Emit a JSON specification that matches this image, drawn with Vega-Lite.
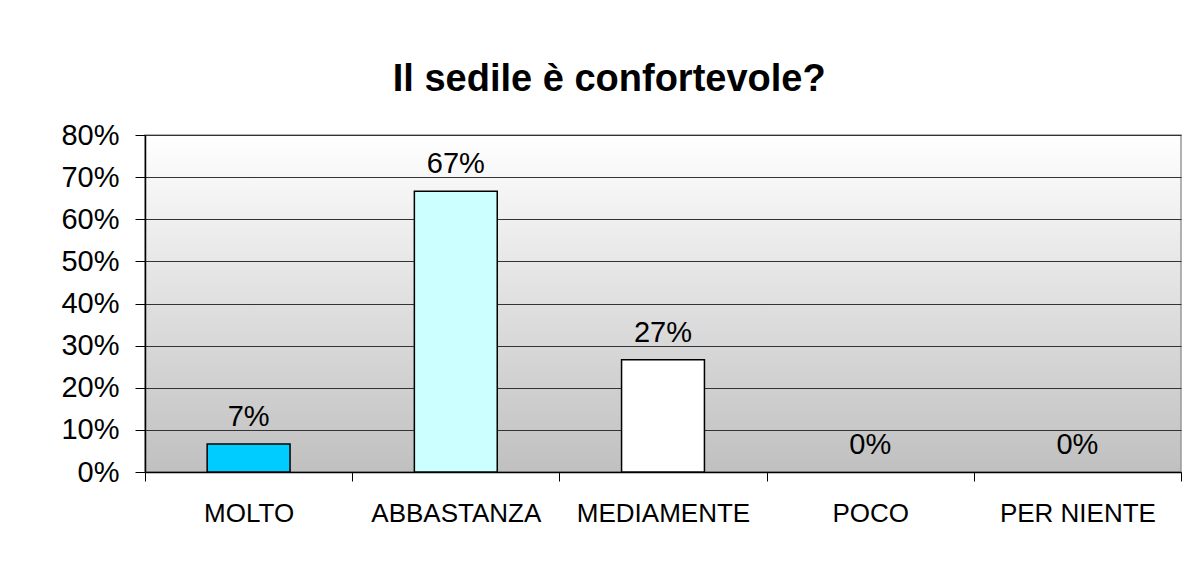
{
  "$schema": "https://vega.github.io/schema/vega-lite/v6.json",
  "autosize": "none",
  "padding": {"left": 145, "top": 135, "right": 21, "bottom": 114},
  "width": 1036,
  "height": 337,
  "background": "white",
  "title": {
    "text": "Il sedile è confortevole?",
    "fontSize": 38,
    "fontWeight": "bold",
    "font": "Liberation Sans",
    "color": "#000000",
    "anchor": "middle",
    "frame": "bounds",
    "offset": 22,
    "dx": -12
  },
  "data": {
    "values": [
      {"risposta": "MOLTO", "quota": 0.0667},
      {"risposta": "ABBASTANZA", "quota": 0.6667},
      {"risposta": "MEDIAMENTE", "quota": 0.2667},
      {"risposta": "POCO", "quota": 0},
      {"risposta": "PER NIENTE", "quota": 0}
    ]
  },
  "encoding": {
    "x": {
      "field": "risposta",
      "type": "nominal",
      "sort": null,
      "scale": {"paddingInner": 0, "paddingOuter": 0},
      "axis": {
        "title": null,
        "labelAngle": 0,
        "labelFont": "Liberation Sans",
        "labelFontSize": 26,
        "labelColor": "#000000",
        "labelPadding": 19,
        "tickBand": "extent",
        "tickColor": "#000000",
        "tickSize": 9,
        "domainColor": "#000000",
        "domainWidth": 1.5,
        "grid": false
      }
    },
    "y": {
      "field": "quota",
      "type": "quantitative",
      "scale": {"domain": [0, 0.8], "nice": false},
      "axis": {
        "title": null,
        "values": [0, 0.1, 0.2, 0.3, 0.4, 0.5, 0.6, 0.7, 0.8],
        "format": ".0%",
        "labelFont": "Liberation Sans",
        "labelFontSize": 29,
        "labelColor": "#000000",
        "labelPadding": 16,
        "tickColor": "#000000",
        "tickSize": 10,
        "domainColor": "#000000",
        "domainWidth": 1.5,
        "grid": true,
        "gridColor": "#333333",
        "gridWidth": 1
      }
    }
  },
  "layer": [
    {
      "mark": {"type": "bar", "width": {"band": 0.4}, "stroke": "#000000", "strokeWidth": 1.5},
      "encoding": {
        "color": {
          "field": "risposta",
          "type": "nominal",
          "sort": null,
          "scale": {
            "domain": ["MOLTO", "ABBASTANZA", "MEDIAMENTE", "POCO", "PER NIENTE"],
            "range": ["#00CCFF", "#CCFFFF", "#FFFFFF", "#9999FF", "#993366"]
          },
          "legend": null
        },
        "strokeOpacity": {
          "condition": {"test": "datum.quota > 0", "value": 1},
          "value": 0
        }
      }
    },
    {
      "mark": {"type": "text", "dy": -18, "baseline": "alphabetic", "font": "Liberation Sans", "fontSize": 29, "color": "#000000"},
      "encoding": {
        "text": {"field": "quota", "type": "quantitative", "format": ".0%"}
      }
    }
  ],
  "config": {
    "view": {
      "fill": {
        "gradient": "linear",
        "x1": 0, "y1": 0, "x2": 0, "y2": 1,
        "stops": [
          {"offset": 0, "color": "#ffffff"},
          {"offset": 1, "color": "#c0c0c0"}
        ]
      },
      "stroke": "#999999",
      "strokeWidth": 1.5
    }
  }
}
